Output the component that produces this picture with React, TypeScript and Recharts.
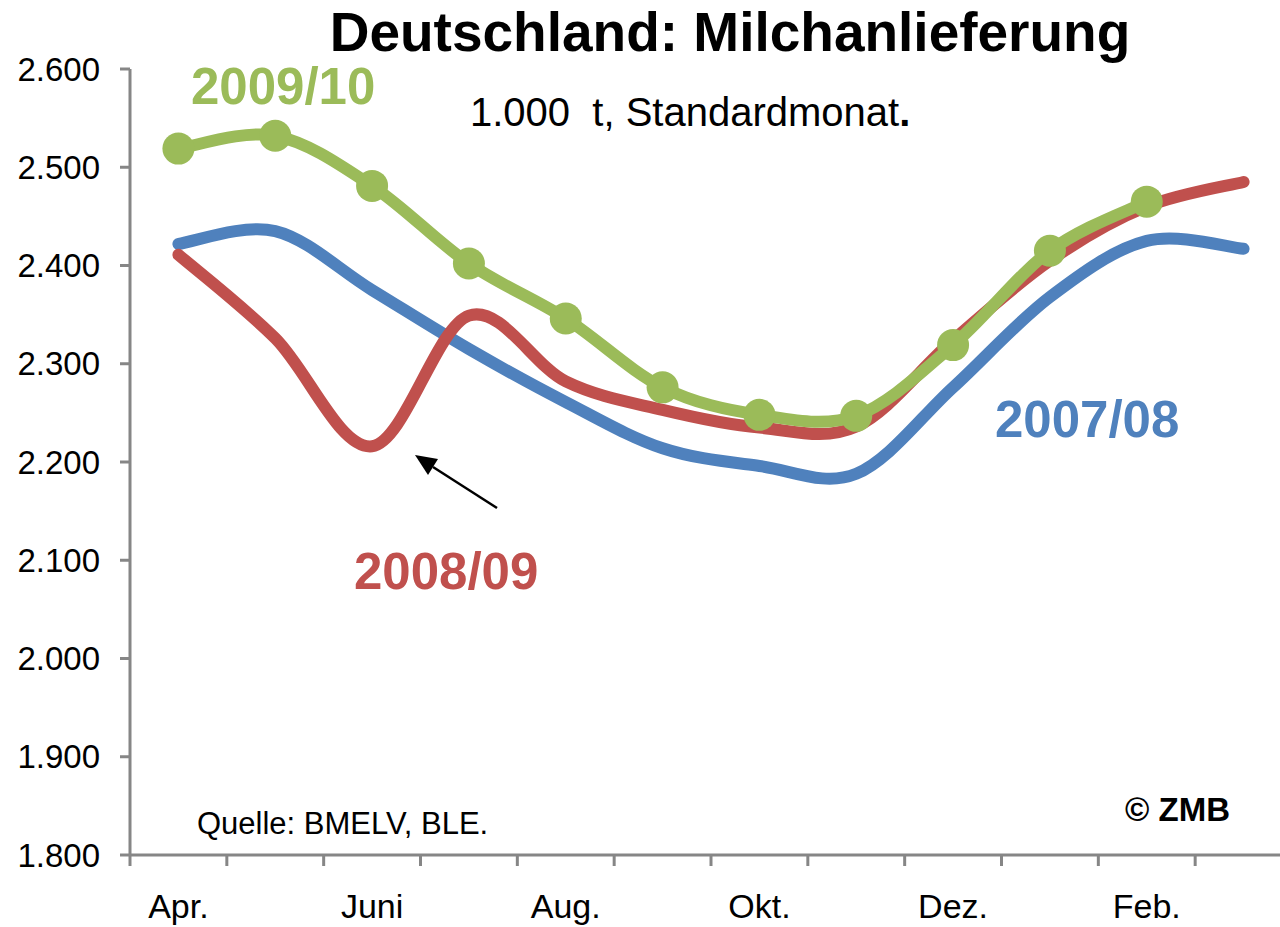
import React from 'react';
import { LineChart, Line, XAxis, YAxis } from 'recharts';

// Monate (Milchwirtschaftsjahr April - März)
const months = ['Apr.', 'Mai', 'Juni', 'Juli', 'Aug.', 'Sep.', 'Okt.', 'Nov.', 'Dez.', 'Jan.', 'Feb.', 'März'];

// 1.000 t, Standardmonat
const milk0708 = [2422, 2435, 2375, 2315, 2261, 2214, 2196, 2188, 2276, 2368, 2425, 2417];
const milk0809 = [2411, 2326, 2216, 2349, 2282, 2253, 2235, 2236, 2324, 2405, 2460, 2485];
const milk0910 = [2519, 2532, 2481, 2402, 2346, 2276, 2248, 2247, 2319, 2415, 2465, null];

const yTicks = [1800, 1900, 2000, 2100, 2200, 2300, 2400, 2500, 2600];

const BLUE = '#4F81BD';
const RED = '#C0504D';
const GREEN = '#9BBB59';
const AXIS = '#868686';
const FONT = '"Liberation Sans", Arial, sans-serif';

const rows = months.map((m, i) => ({
  i,
  m,
  s0708: milk0708[i],
  s0809: milk0809[i],
  s0910: milk0910[i],
}));

// tick-Positionen: Kategoriegrenzen (x.5) und Monatsmitten
const xTicks: number[] = [];
for (let k = -1; k < months.length; k++) {
  xTicks.push(k + 0.5);
  if (k + 1 < months.length) xTicks.push(k + 1);
}

// Excel-artige Glättung (Catmull-Rom)
function smoothCurve(context: any) {
  let pts: number[][] = [];
  return {
    areaStart() {},
    areaEnd() {},
    lineStart() {
      pts = [];
    },
    point(x: number, y: number) {
      pts.push([+x, +y]);
    },
    lineEnd() {
      if (!pts.length) return;
      context.moveTo(pts[0][0], pts[0][1]);
      for (let k = 0; k < pts.length - 1; k++) {
        const p0 = pts[k - 1] || pts[k];
        const p1 = pts[k];
        const p2 = pts[k + 1];
        const p3 = pts[k + 2] || p2;
        context.bezierCurveTo(
          p1[0] + (p2[0] - p0[0]) / 6,
          p1[1] + (p2[1] - p0[1]) / 6,
          p2[0] - (p3[0] - p1[0]) / 6,
          p2[1] - (p3[1] - p1[1]) / 6,
          p2[0],
          p2[1],
        );
      }
    },
  };
}

const fmt = (v: number) => String(v).replace(/\B(?=(\d{3})+(?!\d))/g, '.');

function MonthTick(props: any) {
  const { x, y, payload } = props;
  const v = payload.value as number;
  if (v % 1 !== 0) {
    return <line x1={x} x2={x} y1={y} y2={y + 11} stroke={AXIS} strokeWidth={3} />;
  }
  if (v % 2 !== 0) return null;
  return (
    <text x={x} y={y + 63} textAnchor="middle" fontSize={34} fontFamily={FONT} fill="#000">
      {months[v]}
    </text>
  );
}

const label = (extra: React.CSSProperties): React.CSSProperties => ({
  position: 'absolute',
  fontFamily: FONT,
  whiteSpace: 'pre',
  lineHeight: 1,
  ...extra,
});

export default function App() {
  return (
    <div
      style={{
        position: 'absolute',
        left: 0,
        top: 0,
        width: 1280,
        height: 927,
        overflow: 'hidden',
        background: '#fff',
      }}
    >
      <LineChart width={1300} height={927} data={rows} margin={{ top: 69, right: 8, bottom: 0, left: 0 }}>
        <XAxis
          dataKey="i"
          type="number"
          domain={[-0.5, 11.5]}
          ticks={xTicks}
          interval={0}
          height={72}
          tickLine={false}
          tickSize={0}
          tickMargin={0}
          axisLine={{ stroke: AXIS, strokeWidth: 3 }}
          tick={<MonthTick />}
        />
        <YAxis
          width={130}
          domain={[1800, 2600]}
          ticks={yTicks}
          interval={0}
          allowDataOverflow
          tickSize={10}
          tickMargin={20}
          tickFormatter={fmt}
          tick={{ fontSize: 33, fill: '#000', fontFamily: FONT }}
          tickLine={{ stroke: AXIS, strokeWidth: 3 }}
          axisLine={{ stroke: AXIS, strokeWidth: 3 }}
        />
        <Line
          dataKey="s0708"
          type={smoothCurve as any}
          stroke={BLUE}
          strokeWidth={12}
          strokeLinecap="round"
          dot={false}
          activeDot={false}
          isAnimationActive={false}
        />
        <Line
          dataKey="s0809"
          type={smoothCurve as any}
          stroke={RED}
          strokeWidth={12}
          strokeLinecap="round"
          dot={false}
          activeDot={false}
          isAnimationActive={false}
        />
        <Line
          dataKey="s0910"
          type={smoothCurve as any}
          stroke={GREEN}
          strokeWidth={12}
          strokeLinecap="round"
          dot={{ r: 16, fill: GREEN, stroke: 'none', strokeWidth: 0 }}
          activeDot={false}
          isAnimationActive={false}
        />
      </LineChart>

      <div style={label({ left: 0, width: 1460, top: 5, textAlign: 'center', fontSize: 55, fontWeight: 700 })}>
        Deutschland: Milchanlieferung
      </div>
      <div style={label({ left: 470, top: 92, fontSize: 40 })}>
        1.000  t, Standardmonat<b>.</b>
      </div>
      <div style={label({ left: 191, top: 61, fontSize: 51, fontWeight: 700, color: GREEN })}>2009/10</div>
      <div style={label({ left: 995, top: 394, fontSize: 51, fontWeight: 700, color: BLUE })}>2007/08</div>
      <div style={label({ left: 354, top: 546, fontSize: 51, fontWeight: 700, color: RED })}>2008/09</div>
      <div style={label({ left: 197, top: 808, fontSize: 31 })}>Quelle: BMELV, BLE.</div>
      <div style={label({ left: 1125, top: 793, fontSize: 33, fontWeight: 700 })}>© ZMB</div>

      <svg width={1280} height={927} style={{ position: 'absolute', left: 0, top: 0, pointerEvents: 'none' }}>
        <line x1={497} y1={508} x2={433} y2={467} stroke="#000" strokeWidth={2.5} />
        <polygon points="415,455 438,459 428,475" fill="#000" />
      </svg>
    </div>
  );
}
